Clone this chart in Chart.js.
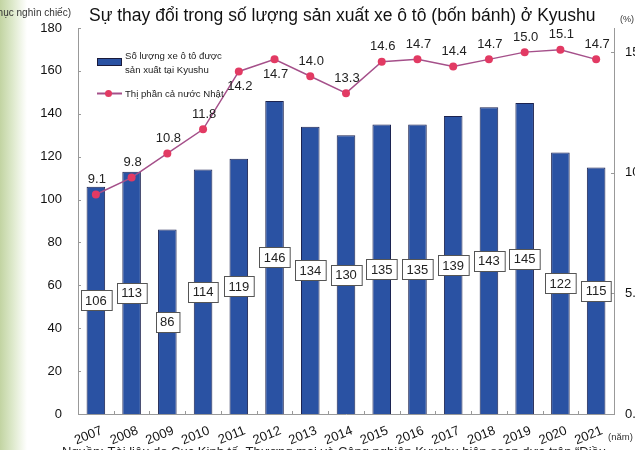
<!DOCTYPE html>
<html>
<head>
<meta charset="utf-8">
<script src="https://cdn.jsdelivr.net/npm/chart.js@4.4.1/dist/chart.umd.min.js"></script>
<style>
  html, body { margin: 0; padding: 0; background: #fff; }
  #wrap {
    position: relative; width: 635px; height: 450px; overflow: hidden;
    background: linear-gradient(to right, #c2d4a2 0px, #dce8c9 12px, #ffffff 27px);
  }
  canvas { position: absolute; left: 0; top: 0; }
</style>
</head>
<body>
<div id="wrap"><canvas id="chart" width="635" height="450"></canvas></div>
<script>
// Data
const years = ["2007", "2008", "2009", "2010", "2011", "2012", "2013", "2014",
               "2015", "2016", "2017", "2018", "2019", "2020", "2021"];
// production in Kyushu (chục nghìn chiếc)
const production = [106, 113, 86, 114, 119, 146, 134, 130, 135, 135, 139, 143, 145, 122, 115];
// share of all Japan (%)
const share = [9.1, 9.8, 10.8, 11.8, 14.2, 14.7, 14.0, 13.3, 14.6, 14.7, 14.4, 14.7, 15.0, 15.1, 14.7];
const leftTicks = [0, 20, 40, 60, 80, 100, 120, 140, 160, 180];
const rightTicks = [0, 5, 10, 15];
// years whose share label sits under the point
const shareLabelBelow = ["2011", "2012"];

const FONT = "'Liberation Sans', Arial, sans-serif";
const BAR_BLUE = "#2a52a3";
const LINE_PURPLE = "#a5508a";
const DOT_RED = "#e23a63";

// Draws titles, legend, value labels and the small inner tick marks
const decorPlugin = {
    id: "decor",
    afterDatasetsDraw(chart) {
        const ctx = chart.ctx;
        const x = chart.scales.x;
        const y = chart.scales.y;
        const y1 = chart.scales.y1;
        const area = chart.chartArea;

        ctx.save();

        // inner ticks
        ctx.strokeStyle = "#999";
        ctx.lineWidth = 1;
        ctx.beginPath();
        leftTicks.forEach((v) => {
            const py = Math.round(y.getPixelForValue(v)) + 0.5;
            ctx.moveTo(area.left, py);
            ctx.lineTo(area.left + 3, py);
        });
        rightTicks.forEach((v) => {
            const py = Math.round(y1.getPixelForValue(v)) + 0.5;
            ctx.moveTo(area.right, py);
            ctx.lineTo(area.right - 3, py);
        });
        for (let i = 0; i <= years.length; i++) {
            const px = Math.round(x.getPixelForValue(i - 0.5)) + 0.5;
            ctx.moveTo(px, area.bottom);
            ctx.lineTo(px, area.bottom - 3);
        }
        ctx.stroke();

        // bar value boxes (at half height of each bar)
        const barMeta = chart.getDatasetMeta(0);
        ctx.font = "13px " + FONT;
        ctx.textAlign = "center";
        ctx.textBaseline = "middle";
        barMeta.data.forEach((bar, i) => {
            const text = String(production[i]);
            const w = ctx.measureText(text).width + 9;
            const h = 20;
            const cy = y.getPixelForValue(production[i] / 2);
            const bx = Math.round(bar.x - w / 2) + 0.5;
            const by = Math.round(cy - h / 2) + 0.5;
            ctx.fillStyle = "#fff";
            ctx.fillRect(bx, by, w, h);
            ctx.strokeStyle = "#555";
            ctx.strokeRect(bx, by, w, h);
            ctx.fillStyle = "#222";
            ctx.fillText(text, bar.x, cy + 1);
        });

        // share labels
        const lineMeta = chart.getDatasetMeta(1);
        ctx.font = "13px " + FONT;
        lineMeta.data.forEach((pt, i) => {
            const below = shareLabelBelow.includes(years[i]);
            ctx.fillText(share[i].toFixed(1), pt.x + 1, pt.y + (below ? 15 : -15));
        });

        // legend
        ctx.font = "9.6px " + FONT;
        ctx.textAlign = "left";
        ctx.fillStyle = BAR_BLUE;
        ctx.fillRect(97, 58, 24, 7);
        ctx.strokeStyle = "#1a1a3a";
        ctx.strokeRect(97.5, 58.5, 24, 7);
        ctx.fillStyle = "#222";
        ctx.fillText("Số lượng xe ô tô được", 125, 56);
        ctx.fillText("sản xuất tại Kyushu", 125, 70);
        ctx.strokeStyle = LINE_PURPLE;
        ctx.lineWidth = 2;
        ctx.beginPath();
        ctx.moveTo(97, 93.5);
        ctx.lineTo(122, 93.5);
        ctx.stroke();
        ctx.fillStyle = DOT_RED;
        ctx.beginPath();
        ctx.arc(108.5, 93.5, 3.5, 0, Math.PI * 2);
        ctx.fill();
        ctx.fillStyle = "#222";
        ctx.fillText("Thị phần cả nước Nhật", 125, 94);

        // title and units
        ctx.font = "17.5px " + FONT;
        ctx.fillStyle = "#111";
        ctx.textBaseline = "alphabetic";
        ctx.fillText("Sự thay đổi trong số lượng sản xuất xe ô tô (bốn bánh) ở Kyushu", 89, 21);

        ctx.font = "10px " + FONT;
        ctx.textAlign = "right";
        ctx.textBaseline = "middle";
        ctx.fillStyle = "#333";
        ctx.fillText("(Chục nghìn chiếc)", 71, 13);
        ctx.textAlign = "left";
        ctx.font = "9px " + FONT;
        ctx.fillText("(%)", 620, 20);
        ctx.font = "9.5px " + FONT;
        ctx.fillText("(năm)", 608, 437);

        ctx.font = "13px " + FONT;
        ctx.textBaseline = "alphabetic";
        ctx.fillStyle = "#222";
        ctx.fillText("Nguồn: Tài liệu do Cục Kinh tế, Thương mại và Công nghiệp Kyushu biên soạn dựa trên “Điều", 62, 456);

        ctx.restore();
    },
};

new Chart(document.getElementById("chart"), {
    type: "bar",
    data: {
        labels: years,
        datasets: [
            {
                label: "Số lượng xe ô tô được sản xuất tại Kyushu",
                data: production,
                backgroundColor: BAR_BLUE,
                borderColor: "#1c2350",
                borderWidth: 1,
                barPercentage: 0.52,
                categoryPercentage: 1,
                yAxisID: "y",
                order: 2,
            },
            {
                type: "line",
                label: "Thị phần cả nước Nhật",
                data: share,
                borderColor: LINE_PURPLE,
                borderWidth: 1.5,
                pointRadius: 4,
                pointBackgroundColor: DOT_RED,
                pointBorderColor: DOT_RED,
                pointBorderWidth: 0,
                tension: 0,
                yAxisID: "y1",
                order: 1,
            },
        ],
    },
    options: {
        responsive: false,
        animation: false,
        layout: { padding: { top: 28, left: 0, right: 0, bottom: 0 } },
        plugins: {
            legend: { display: false },
            tooltip: { enabled: false },
        },
        scales: {
            x: {
                grid: { display: false },
                border: { display: true, color: "#999" },
                ticks: {
                    color: "#111",
                    font: { size: 13, family: FONT },
                    maxRotation: 22,
                    minRotation: 22,
                    padding: 1,
                    labelOffset: 6,
                },
                afterFit: (s) => { s.height = 36; },
            },
            y: {
                position: "left",
                min: 0,
                max: 180,
                grid: { display: false, drawTicks: false },
                border: { display: true, color: "#999" },
                ticks: {
                    stepSize: 20,
                    color: "#111",
                    font: { size: 13, family: FONT },
                    padding: 16,
                },
                afterFit: (s) => { s.width = 78; },
            },
            y1: {
                position: "right",
                min: 0,
                max: 16,
                grid: { display: false, drawTicks: false },
                border: { display: true, color: "#999" },
                afterBuildTicks: (s) => { s.ticks = rightTicks.map((v) => ({ value: v })); },
                ticks: {
                    color: "#111",
                    font: { size: 13, family: FONT },
                    padding: 11,
                    callback: (v) => Number(v).toFixed(1),
                },
                afterFit: (s) => { s.width = 21; },
            },
        },
    },
    plugins: [decorPlugin],
});
</script>
</body>
</html>
